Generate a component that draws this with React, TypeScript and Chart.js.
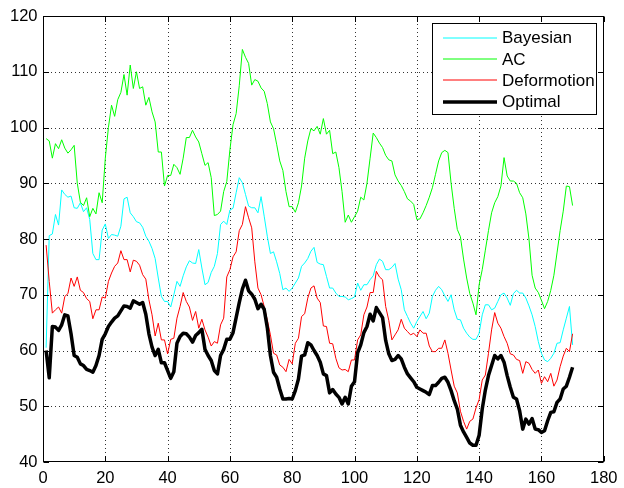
import React, { useEffect, useRef } from "react";
import { Chart, registerables } from "chart.js";

Chart.register(...registerables);

const sampleIndex: number[] = Array.from({ length: 170 }, (_, i) => i + 1);

const xTicks = [0, 20, 40, 60, 80, 100, 120, 140, 160, 180];
const yTicks = [40, 50, 60, 70, 80, 90, 100, 110, 120];

const bayesian = [
  60.5, 80.6, 80.9, 84.4, 82.5, 88.8, 88.0, 87.5, 87.7, 85.6,
  85.5, 86.5, 84.9, 85.6, 83.5, 77.4, 76.3, 76.3, 81.6, 82.7,
  80.1, 80.8, 80.7, 80.5, 82.3, 87.2, 87.5, 84.7, 84.0, 83.1,
  82.9, 82.1, 80.5, 79.6, 78.3, 76.5, 73.0, 69.7, 68.8, 68.8,
  67.8, 70.0, 72.4, 71.5, 73.4, 75.0, 76.1, 75.7, 75.6, 78.1,
  74.8, 71.8, 72.2, 74.0, 75.1, 77.4, 82.6, 83.2, 82.6, 85.2,
  85.5, 88.3, 91.0, 90.1, 88.0, 85.9, 85.6, 85.6, 84.7, 87.6,
  84.1, 80.5, 77.4, 77.7, 75.9, 73.8, 70.9, 71.2, 70.6, 71.2,
  72.1, 73.0, 75.1, 75.7, 76.5, 77.8, 78.5, 75.8, 75.5, 75.4,
  73.3, 71.2, 71.2, 70.3, 69.7, 69.7, 69.6, 69.1, 69.3, 69.6,
  72.1, 70.8, 71.8, 71.8, 72.7, 73.4, 75.4, 76.4, 76.0, 74.5,
  74.5, 74.9, 75.6, 72.8, 70.9, 67.3, 66.1, 64.9, 64.0, 65.2,
  66.1, 67.0, 65.7, 66.7, 69.7, 70.8, 71.5, 70.9, 69.8, 68.8,
  70.0, 67.3, 65.6, 65.5, 64.0, 63.1, 62.4, 62.0, 62.0, 63.1,
  66.4, 68.2, 68.2, 67.3, 67.6, 68.8, 70.0, 70.3, 69.4, 68.1,
  70.2, 70.8, 70.3, 70.3, 69.4, 68.0, 66.4, 64.3, 61.6, 59.5,
  58.3, 58.0, 58.6, 59.5, 61.3, 61.4, 63.7, 65.8, 67.9, 61.0,
];

const ac = [
  98.0, 97.6, 94.5, 97.1, 96.2, 97.8, 96.3, 95.4, 96.0, 96.8,
  90.0, 86.6, 86.0, 87.4, 84.0, 85.5, 84.5, 88.3, 86.5, 94.5,
  100.0, 104.0, 102.0, 105.0, 106.3, 109.5, 105.8, 111.2, 107.0, 110.0,
  107.0, 107.3, 104.0, 105.4, 102.8, 101.0, 95.6, 95.6, 89.5, 91.4,
  91.4, 93.4, 92.8, 91.6, 94.5, 98.2, 98.2, 99.5, 98.3, 97.4,
  95.3, 93.2, 93.7, 91.0, 84.2, 84.4, 85.0, 88.5, 90.3, 96.0,
  100.5, 102.5, 107.5, 114.0, 112.6, 111.5, 107.6, 108.6, 108.3, 107.1,
  106.5, 104.3, 101.0, 99.8, 97.0, 94.0, 92.3, 88.5, 85.8, 85.8,
  84.8, 86.5, 89.5, 94.5, 97.6, 99.8, 99.4, 100.2, 98.8, 101.6,
  98.8, 99.5, 95.3, 95.6, 92.8, 88.5, 83.0, 84.3, 83.0, 84.0,
  85.0, 87.5, 87.0, 90.0, 94.5, 99.0, 98.2, 97.2, 96.4, 95.0,
  94.2, 94.0, 91.5, 90.4, 89.6, 88.5, 87.2, 86.8, 86.2, 83.5,
  83.6, 84.7, 86.0, 87.5, 89.2, 91.6, 94.0, 95.5, 95.9, 95.5,
  90.0, 85.5, 81.7, 80.4, 76.4, 73.0, 70.2, 68.5, 66.4, 71.8,
  74.5, 78.0, 81.5, 84.7, 86.5, 87.6, 89.5, 94.6, 91.3, 90.4,
  90.4, 90.0, 88.3, 87.4, 84.5, 80.0, 73.5, 71.2, 70.4, 69.0,
  67.5, 68.8, 70.8, 73.5, 77.5, 81.5, 85.0, 89.5, 89.4, 86.0,
];

const deformotion = [
  78.9, 72.4, 66.7, 67.3, 67.8, 66.7, 69.7, 70.2, 73.0, 71.5,
  73.2, 70.8, 70.4, 69.3, 68.8, 65.7, 67.3, 67.3, 69.6, 69.4,
  72.4, 73.9, 75.1, 75.7, 77.9, 76.3, 76.3, 74.1, 76.2, 76.0,
  75.3, 73.6, 72.8, 69.1, 66.4, 62.6, 64.9, 61.9, 61.9, 59.4,
  62.0, 62.2, 65.8, 67.9, 70.4, 68.8, 67.8, 65.4, 67.0, 64.0,
  65.6, 63.7, 62.4, 60.8, 61.6, 61.3, 64.6, 65.8, 73.2, 74.5,
  76.8, 77.7, 81.5, 82.6, 85.8, 83.8, 82.0, 75.9, 71.2, 70.0,
  67.9, 65.5, 62.8, 59.5, 59.2, 57.4, 57.0, 56.2, 58.4, 57.6,
  61.3, 62.2, 66.1, 66.6, 69.4, 71.2, 71.6, 69.4, 68.6, 64.4,
  64.3, 61.3, 61.2, 58.6, 56.9, 56.5, 56.6, 56.2, 58.3, 58.3,
  61.9, 62.8, 66.4, 67.8, 70.4, 70.4, 74.2, 73.2, 72.7, 67.9,
  65.4, 61.9, 62.8, 63.7, 65.6, 64.0, 63.4, 62.8, 63.1, 62.5,
  63.7, 63.1, 63.1, 60.8, 59.8, 59.8, 60.4, 60.4, 61.9, 59.5,
  56.5, 53.6, 52.4, 49.1, 47.3, 45.9, 47.3, 47.7, 49.7, 51.2,
  54.7, 55.6, 59.5, 63.7, 66.8, 64.9, 64.0, 62.5, 61.3, 59.4,
  59.2, 58.4, 58.2, 55.9, 58.0, 57.7, 56.6, 55.9, 56.5, 54.1,
  55.3, 54.4, 55.9, 53.6, 54.7, 57.1, 59.0, 60.4, 59.8, 63.0,
];

const optimal = [
  60.0, 55.1, 64.3, 64.2, 63.6, 64.6, 66.4, 66.2, 63.0, 59.1,
  58.8, 57.6, 57.3, 56.6, 56.4, 56.1, 57.3, 59.1, 62.0, 63.0,
  64.3, 65.1, 65.8, 66.2, 67.1, 68.0, 67.9, 67.6, 68.9, 68.6,
  68.3, 68.6, 66.5, 63.0, 60.6, 59.1, 60.2, 57.8, 57.8, 56.4,
  55.0, 56.2, 61.3, 62.5, 63.1, 63.0, 62.4, 61.5, 62.7, 63.2,
  63.8, 60.2, 59.1, 58.2, 56.4, 55.8, 59.1, 60.2, 62.0, 62.0,
  63.2, 65.9, 68.6, 71.0, 72.6, 70.7, 70.1, 69.2, 67.5, 68.3,
  67.4, 64.1, 59.1, 56.1, 55.2, 53.1, 51.3, 51.3, 51.4, 51.3,
  52.8, 54.9, 59.0, 59.2, 61.4, 61.0, 60.0, 59.1, 57.9, 55.8,
  55.5, 52.4, 53.0, 52.2, 51.6, 50.4, 51.6, 50.4, 53.6, 54.4,
  59.6, 61.0, 63.2, 64.3, 66.5, 65.3, 67.7, 66.8, 65.9, 61.8,
  59.4, 58.2, 58.4, 59.1, 58.5, 57.0, 55.8, 55.1, 54.4, 53.4,
  53.1, 52.8, 52.5, 52.1, 53.7, 53.7, 54.3, 55.0, 55.2, 54.3,
  52.8, 51.0, 49.5, 46.6, 45.4, 44.4, 43.4, 43.0, 43.0, 44.8,
  49.5, 52.9, 55.5, 57.3, 59.1, 58.5, 59.1, 57.9, 55.5, 53.4,
  51.6, 51.3, 49.2, 45.9, 47.7, 46.8, 47.8, 45.9, 45.8, 45.3,
  45.6, 47.4, 48.9, 49.0, 50.7, 51.3, 53.1, 53.6, 55.2, 57.0,
];

const FONT = "'Liberation Sans', Arial, Helvetica, sans-serif";

const matlabAxesPlugin = {
  id: "matlabAxes",
  beforeDatasetsDraw(chart: any) {
    const { ctx, chartArea: a, scales } = chart;
    const xs = scales.x;
    const ys = scales.y;
    ctx.save();
    ctx.strokeStyle = "#333";
    ctx.lineWidth = 1;
    ctx.setLineDash([1, 3]);
    ctx.beginPath();
    for (const t of xs.ticks) {
      if (t.value <= xs.min || t.value >= xs.max) continue;
      const px = Math.round(xs.getPixelForValue(t.value)) + 0.5;
      ctx.moveTo(px, a.top);
      ctx.lineTo(px, a.bottom);
    }
    for (const t of ys.ticks) {
      if (t.value <= ys.min || t.value >= ys.max) continue;
      const py = Math.round(ys.getPixelForValue(t.value)) + 0.5;
      ctx.moveTo(a.left, py);
      ctx.lineTo(a.right, py);
    }
    ctx.stroke();
    ctx.restore();
  },
  afterDatasetsDraw(chart: any) {
    const { ctx, chartArea: a, scales } = chart;
    const xs = scales.x;
    const ys = scales.y;
    const L = Math.round(a.left) + 0.5;
    const R = Math.round(a.right) - 0.5;
    const T = Math.round(a.top) + 0.5;
    const B = Math.round(a.bottom) - 0.5;
    const tl = 5.5;
    ctx.save();
    ctx.setLineDash([]);
    ctx.strokeStyle = "#000";
    ctx.lineWidth = 1;
    ctx.beginPath();
    for (const t of xs.ticks) {
      const px = Math.round(xs.getPixelForValue(t.value)) + 0.5;
      ctx.moveTo(px, B);
      ctx.lineTo(px, B - tl);
      ctx.moveTo(px, T);
      ctx.lineTo(px, T + tl);
    }
    for (const t of ys.ticks) {
      const py = Math.round(ys.getPixelForValue(t.value)) + 0.5;
      ctx.moveTo(L, py);
      ctx.lineTo(L + tl, py);
      ctx.moveTo(R, py);
      ctx.lineTo(R - tl, py);
    }
    ctx.stroke();
    ctx.strokeRect(L, T, R - L, B - T);
    ctx.restore();
  },
  afterDraw(chart: any) {
    const { ctx, chartArea: a } = chart;
    const boxRight = Math.round(a.right) - 7.5;
    const boxLeft = 432.5;
    const boxTop = 23.5;
    const boxBottom = 114.5;
    ctx.save();
    ctx.fillStyle = "#fff";
    ctx.fillRect(boxLeft, boxTop, boxRight - boxLeft, boxBottom - boxTop);
    ctx.strokeStyle = "#000";
    ctx.lineWidth = 1;
    ctx.setLineDash([]);
    ctx.strokeRect(boxLeft, boxTop, boxRight - boxLeft, boxBottom - boxTop);
    ctx.font = `17px ${FONT}`;
    ctx.textBaseline = "middle";
    ctx.textAlign = "left";
    const rowH = 21.4;
    chart.data.datasets.forEach((ds: any, i: number) => {
      const y = 37.5 + i * rowH;
      ctx.strokeStyle = ds.borderColor;
      ctx.lineWidth = ds.borderWidth;
      ctx.beginPath();
      ctx.moveTo(443, Math.round(y));
      ctx.lineTo(497, Math.round(y));
      ctx.stroke();
      ctx.fillStyle = "#000";
      ctx.fillText(ds.label, 502, y + 1);
    });
    ctx.restore();
  },
};

export default function App() {
  const ref = useRef<HTMLCanvasElement | null>(null);
  useEffect(() => {
    document.body.style.margin = "0";
    if (!ref.current) return;
    const chart = new Chart(ref.current, {
      type: "line",
      data: {
        labels: sampleIndex,
        datasets: [
          { label: "Bayesian", data: bayesian, borderColor: "#00ffff", borderWidth: 1, order: 3 },
          { label: "AC", data: ac, borderColor: "#00ff00", borderWidth: 1, order: 2 },
          { label: "Deformotion", data: deformotion, borderColor: "#ff0000", borderWidth: 1, order: 1 },
          { label: "Optimal", data: optimal, borderColor: "#000000", borderWidth: 3.5, order: 0 },
        ].map((d) => ({ ...d, pointRadius: 0, tension: 0, fill: false, borderJoinStyle: "round" as const })),
      },
      options: {
        responsive: false,
        animation: false,
        layout: { padding: { left: 0, right: 14, top: 16, bottom: 0 } },
        plugins: { legend: { display: false }, tooltip: { enabled: false } },
        scales: {
          x: {
            type: "linear",
            min: 0,
            max: 180,
            afterBuildTicks: (s: any) => {
              s.ticks = xTicks.map((v) => ({ value: v }));
            },
            afterFit: (s: any) => {
              s.height = 26;
            },
            grid: { display: false, drawTicks: false, tickLength: 0 },
            border: { display: false },
            ticks: { color: "#000", font: { family: FONT, size: 16.5 }, padding: 6.5, maxRotation: 0, autoSkip: false },
          },
          y: {
            type: "linear",
            min: 40,
            max: 120,
            afterBuildTicks: (s: any) => {
              s.ticks = yTicks.map((v) => ({ value: v }));
            },
            afterFit: (s: any) => {
              s.width = 43;
            },
            grid: { display: false, drawTicks: false, tickLength: 0 },
            border: { display: false },
            ticks: { color: "#000", font: { family: FONT, size: 16.5 }, padding: 5.5, autoSkip: false },
          },
        },
      },
      plugins: [matlabAxesPlugin],
    });
    return () => chart.destroy();
  }, []);
  return <canvas ref={ref} width={624} height={488} style={{ display: "block" }} />;
}
